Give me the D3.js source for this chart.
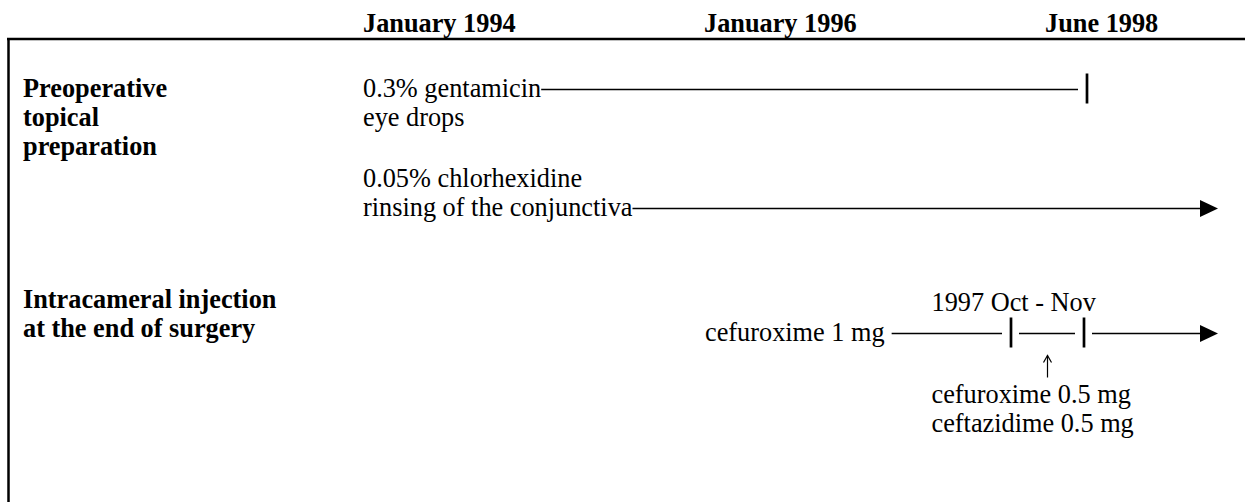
<!DOCTYPE html>
<html lang="en">
<head>
    <meta charset="utf-8">
    <title>Endophthalmitis prophylaxis timeline</title>
    <script type="text/javascript" src="https://cdn.jsdelivr.net/npm/d3@7"></script>
    <style>
        html, body {
            margin: 0;
            padding: 0;
            background: #fff;
        }

        text {
            font-family: "Liberation Serif", "Times New Roman", serif;
            font-size: 26.3px;
            fill: #000;
        }

        text.bold {
            font-weight: bold;
        }

        .frame {
            stroke: #000;
            stroke-width: 2.5px;
        }

        .link {
            stroke: #000;
            stroke-width: 1.4px;
        }

        .stop {
            stroke: #000;
            stroke-width: 2.7px;
        }
    </style>
</head>
<body>
<script type="text/javascript">

    var parseDate = d3.timeParse("%Y-%m");

    // column headings along the top
    var headerLabels = ["January 1994", "January 1996", "June 1998"];

    // row group titles
    var groupLabels = [
        ["Preoperative", "topical", "preparation"],
        ["Intracameral injection", "at the end of surgery"]
    ];

    // topical preparations: label lines, start, end ("ongoing" = still used)
    var topicalNames = [
        ["0.3% gentamicin", "eye drops"],
        ["0.05% chlorhexidine", "rinsing of the conjunctiva"]
    ];
    var topicalStart = ["1994-01", "1994-01"];
    var topicalEnd = ["1998-06", "ongoing"];

    // intracameral injection regimens
    var injectionStart = "1996-01";
    var injectionMain = "cefuroxime 1 mg";
    var injectionChanges = ["1997-10", "1997-11"];
    var changeLabel = "1997 Oct - Nov";
    var interimRegimen = ["cefuroxime 0.5 mg", "ceftazidime 0.5 mg"];

    var ongoing = "1999-01";

    var W = 1245, H = 502;
    var lineH = 29;

    var svg = d3.select("body").append("svg")
        .attr("width", W).attr("height", H);

    // schematic (not proportional) time axis
    var x = d3.scaleTime()
        .domain(["1994-01", "1996-01", "1997-10", "1997-11", "1998-06", ongoing].map(parseDate))
        .range([363, 705, 1011, 1084, 1087, 1218]);

    var headerX = d3.scalePoint()
        .domain(headerLabels)
        .range([363, 1045]);

    function xOf(s) {
        return x(parseDate(s === "ongoing" ? ongoing : s));
    }

    // frame: top rule and left rule
    svg.append("line").attr("class", "frame")
        .attr("x1", 7).attr("x2", W).attr("y1", 39).attr("y2", 39);
    svg.append("line").attr("class", "frame")
        .attr("x1", 8.5).attr("x2", 8.5).attr("y1", 38).attr("y2", H);

    svg.selectAll("text.header")
        .data(headerLabels)
        .enter().append("text")
        .attr("class", "header bold")
        .attr("x", function(d) { return headerX(d); })
        .attr("y", 32)
        .text(function(d) { return d; });

    // group titles
    var groupTop = [97, 308];
    groupLabels.forEach(function(lines, i) {
        svg.append("g").selectAll("text")
            .data(lines)
            .enter().append("text")
            .attr("class", "bold")
            .attr("x", 23)
            .attr("y", function(d, j) { return groupTop[i] + j * lineH; })
            .text(function(d) { return d; });
    });

    function arrowHead(g, tip, y) {
        g.append("path")
            .attr("d", "M" + (tip - 18) + "," + (y - 8.5) + "L" + tip + "," + y + "L" + (tip - 18) + "," + (y + 8.5) + "Z")
            .attr("fill", "#000");
    }

    function stopBar(g, xp, y) {
        g.append("line").attr("class", "stop")
            .attr("x1", xp).attr("x2", xp)
            .attr("y1", y - 16).attr("y2", y + 14);
    }

    // topical preparations
    var topicalTop = [97, 187];
    topicalNames.forEach(function(lines, i) {
        var g = svg.append("g");
        var txt = g.selectAll("text")
            .data(lines)
            .enter().append("text")
            .attr("x", xOf(topicalStart[i]))
            .attr("y", function(d, j) { return topicalTop[i] + j * lineH; })
            .text(function(d) { return d; });
        // connector starts at the end of the row text that carries it
        var rowIdx = i === 0 ? 0 : lines.length - 1;
        var node = txt.nodes()[rowIdx];
        var x0 = xOf(topicalStart[i]) + node.getComputedTextLength();
        var cy = topicalTop[i] + rowIdx * lineH - 7.5;
        if (topicalEnd[i] === "ongoing") {
            var tip = xOf("ongoing");
            g.append("line").attr("class", "link")
                .attr("x1", x0).attr("x2", tip - 17).attr("y1", cy).attr("y2", cy);
            arrowHead(g, tip, cy);
        } else {
            var xe = xOf(topicalEnd[i]);
            g.append("line").attr("class", "link")
                .attr("x1", x0).attr("x2", xe - 9).attr("y1", cy).attr("y2", cy);
            stopBar(g, xe, cy);
        }
    });

    // intracameral injection row
    var injY = 341;
    var cy = injY - 7.5;
    var gi = svg.append("g");
    var mainTxt = gi.append("text")
        .attr("x", xOf(injectionStart))
        .attr("y", injY)
        .text(injectionMain);
    var segStart = xOf(injectionStart) + mainTxt.node().getComputedTextLength() + 7;
    var stops = injectionChanges.map(xOf);
    var segs = [[segStart, stops[0] - 9], [stops[0] + 8, stops[1] - 9], [stops[1] + 8, xOf("ongoing") - 17]];
    gi.selectAll("line.link")
        .data(segs)
        .enter().append("line")
        .attr("class", "link")
        .attr("x1", function(d) { return d[0]; })
        .attr("x2", function(d) { return d[1]; })
        .attr("y1", cy).attr("y2", cy);
    stops.forEach(function(s) { stopBar(gi, s, cy); });
    arrowHead(gi, xOf("ongoing"), cy);

    var midX = (stops[0] + stops[1]) / 2;
    var noteX = midX - 116;

    gi.append("text")
        .attr("x", noteX)
        .attr("y", injY - 30)
        .text(changeLabel);

    // small up arrow pointing at the interim period
    gi.append("line")
        .attr("x1", midX).attr("x2", midX)
        .attr("y1", cy + 22).attr("y2", cy + 44)
        .attr("stroke", "#000").attr("stroke-width", 1.2);
    gi.append("path")
        .attr("d", "M" + (midX - 4) + "," + (cy + 29) + "L" + midX + "," + (cy + 22) + "L" + (midX + 4) + "," + (cy + 29))
        .attr("fill", "none").attr("stroke", "#000").attr("stroke-width", 1.2);

    gi.selectAll("text.note")
        .data(interimRegimen)
        .enter().append("text")
        .attr("class", "note")
        .attr("x", noteX)
        .attr("y", function(d, j) { return injY + 62 + j * lineH; })
        .text(function(d) { return d; });

</script>
</body>
</html>
